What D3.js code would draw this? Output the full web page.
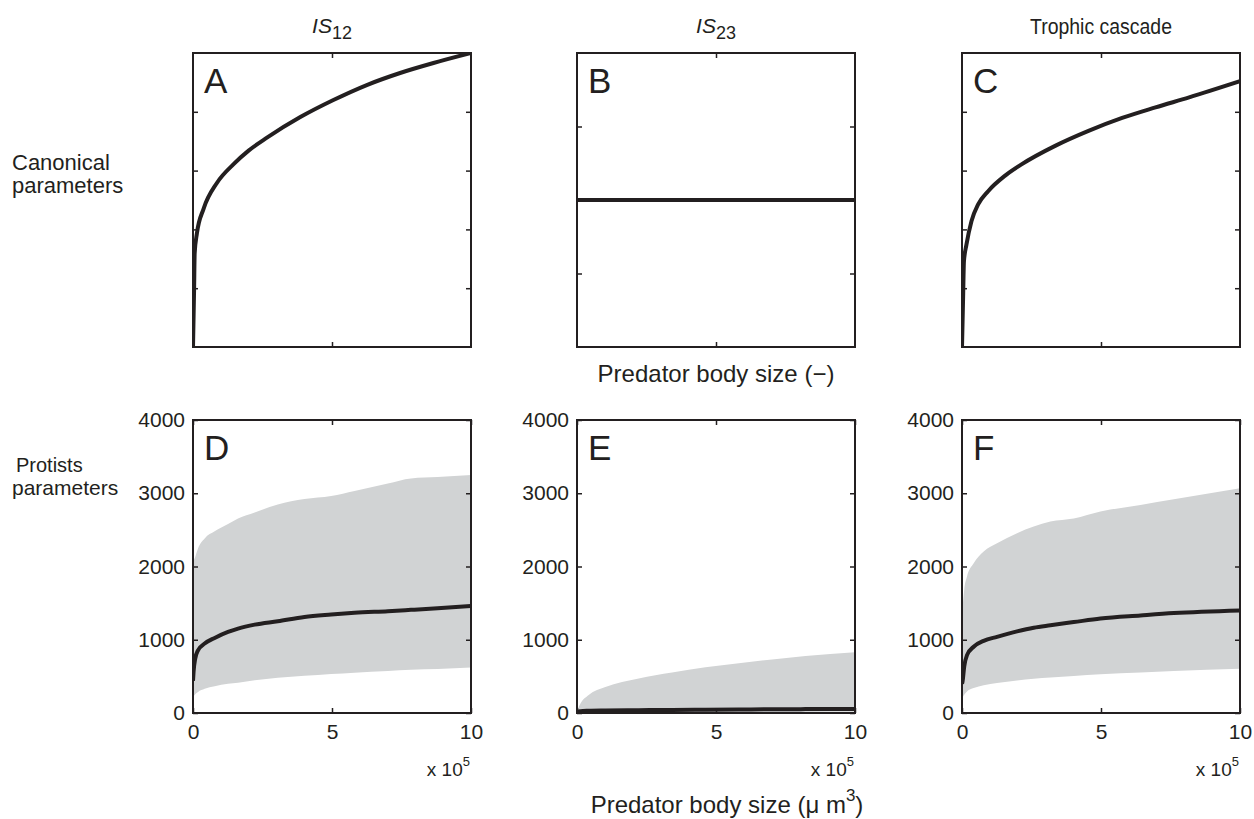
<!DOCTYPE html>
<html><head><meta charset="utf-8">
<script src="https://cdn.jsdelivr.net/npm/d3@7"></script>
<style>
body{margin:0;background:#fff}
text{font-family:"Liberation Sans",Arial,Helvetica,sans-serif;fill:#231f20}
</style>
</head><body>
<svg id="c" width="1254" height="819"></svg>
<script>
// ---------- DATA ----------
const colTitles = ["IS12", "IS23", "Trophic cascade"];
const rowLabels = [["Canonical", "parameters"], ["Protists", "parameters"]];
const panelLetters = ["A", "B", "C", "D", "E", "F"];

// Top row (canonical, dimensionless axes 0..1)
const topX_A = [0, 0.004, 0.006, 0.014, 0.038, 0.086, 0.146, 0.2, 0.266, 0.386, 0.505, 0.625, 0.745, 0.865, 1];
const topY_A = [0, 0.2, 0.318, 0.386, 0.470, 0.558, 0.622, 0.668, 0.712, 0.782, 0.840, 0.891, 0.932, 0.966, 1];
const topX_B = [0, 1];
const topY_B = [0.5, 0.5];
const topX_C = [0, 0.004, 0.007, 0.016, 0.034, 0.058, 0.094, 0.154, 0.214, 0.335, 0.455, 0.576, 0.696, 0.817, 1];
const topY_C = [0, 0.17, 0.291, 0.348, 0.428, 0.485, 0.530, 0.582, 0.621, 0.684, 0.735, 0.779, 0.815, 0.849, 0.904];
const topTicksX = [0.5];
const topTicksY_AC = [0.2, 0.4, 0.6, 0.8];
const topTicksY_B = [0.25, 0.75];

// Bottom row (protists; x in units of 1e5 um^3)
const botX_D = [0, 0.02, 0.08, 0.18, 0.42, 0.78, 1.26, 1.62, 2.22, 3.05, 4.01, 4.97, 5.81, 7.01, 7.84, 8.8, 10];
const upper_D = [2000, 2060, 2130, 2246, 2383, 2480, 2580, 2656, 2738, 2847, 2920, 2961, 3030, 3134, 3203, 3221, 3250];
const mean_D  = [440, 560, 743, 856, 948, 1025, 1107, 1153, 1207, 1253, 1312, 1344, 1367, 1390, 1408, 1430, 1462];
const lower_D = [170, 219, 255, 287, 330, 365, 398, 412, 446, 480, 508, 533, 551, 574, 590, 600, 620];

const botX_E = [0, 0.02, 0.12, 0.42, 1.02, 2.22, 3.42, 4.62, 5.82, 7.02, 8.22, 10];
const upper_E = [30, 47, 127, 245, 354, 472, 552, 623, 679, 731, 778, 830];
const mean_E  = [15, 20, 25, 30, 34, 38, 42, 45, 48, 51, 53, 55];
const lower_E = [0, 2, 4, 6, 8, 10, 11, 12, 13, 14, 15, 16];

const botX_F = [0, 0.02, 0.08, 0.18, 0.42, 0.78, 1.26, 1.98, 2.58, 3.18, 4.02, 4.98, 6.42, 7.62, 10];
const upper_F = [1270, 1409, 1682, 1864, 2045, 2205, 2318, 2455, 2545, 2614, 2655, 2750, 2841, 2918, 3068];
const mean_F  = [400, 432, 636, 790, 905, 985, 1040, 1115, 1165, 1198, 1241, 1290, 1332, 1364, 1400];
const lower_F = [136, 205, 250, 295, 340, 380, 410, 445, 468, 485, 506, 530, 553, 575, 605];

const botTicksX = [0, 5, 10];
const botTicksY = [0, 1000, 2000, 3000, 4000];
const xAxisTop = "Predator body size (\u2212)";
const xAxisBottom = "Predator body size (\u03bc m";

// ---------- LAYOUT ----------
const ink = "#231f20", bandColor = "#d1d3d4";
const colX = [193, 577, 962], panelW = 278;
const rowY = [53, 420], rowH = [294, 293];
const svg = d3.select("#c");

function makePanel(i, col, row, xDom, yDom) {
  const g = svg.append("g").attr("transform", `translate(${colX[col]},${rowY[row]})`);
  const x = d3.scaleLinear().domain(xDom).range([0, panelW]);
  const y = d3.scaleLinear().domain(yDom).range([rowH[row], 0]);
  g.append("clipPath").attr("id", "clip" + i).append("rect")
    .attr("width", panelW).attr("height", rowH[row]);
  const plot = g.append("g").attr("clip-path", `url(#clip${i})`);
  return {g, x, y, plot, h: rowH[row]};
}

function styleAxis(sel) {
  sel.select(".domain").remove();
  sel.selectAll(".tick line").attr("stroke", ink).attr("stroke-width", 1.5);
  sel.selectAll(".tick text").attr("font-size", 21).attr("fill", ink);
}

function frame(p, xt, yt, labels) {
  const t = 5;
  const bottom = d3.axisBottom(p.x).tickValues(xt).tickSize(-t).tickPadding(11)
    .tickFormat(labels ? d3.format("d") : () => "");
  const top = d3.axisTop(p.x).tickValues(xt).tickSize(-t).tickFormat(() => "");
  const left = d3.axisLeft(p.y).tickValues(yt).tickSize(-t).tickPadding(8)
    .tickFormat(labels ? d3.format("d") : () => "");
  const right = d3.axisRight(p.y).tickValues(yt).tickSize(-t).tickFormat(() => "");
  p.g.append("g").attr("transform", `translate(0,${p.h})`).call(bottom).call(styleAxis);
  p.g.append("g").call(top).call(styleAxis);
  p.g.append("g").call(left).call(styleAxis);
  p.g.append("g").attr("transform", `translate(${panelW},0)`).call(right).call(styleAxis);
  p.g.append("rect").attr("width", panelW).attr("height", p.h)
    .attr("fill", "none").attr("stroke", ink).attr("stroke-width", 2);
}

function drawLine(p, xs, ys, curve) {
  const line = d3.line().x((d, k) => p.x(xs[k])).y(d => p.y(d)).curve(curve || d3.curveMonotoneX);
  p.plot.append("path").datum(ys).attr("d", line)
    .attr("fill", "none").attr("stroke", ink).attr("stroke-width", 4)
    .attr("stroke-linejoin", "round");
}

function drawBand(p, xs, lo, hi) {
  const area = d3.area().x((d, k) => p.x(xs[k])).y0((d, k) => p.y(lo[k])).y1(d => p.y(d))
    .curve(d3.curveMonotoneX);
  p.plot.append("path").datum(hi).attr("d", area).attr("fill", bandColor);
}

function letter(p, s) {
  p.g.append("text").attr("x", 11).attr("y", 40).attr("font-size", 35).text(s);
}

// Top row
const pA = makePanel(0, 0, 0, [0, 1], [0, 1]);
drawLine(pA, topX_A, topY_A);
frame(pA, topTicksX, topTicksY_AC, false); letter(pA, panelLetters[0]);

const pB = makePanel(1, 1, 0, [0, 1], [0, 1]);
drawLine(pB, topX_B, topY_B, d3.curveLinear);
frame(pB, topTicksX, topTicksY_B, false); letter(pB, panelLetters[1]);

const pC = makePanel(2, 2, 0, [0, 1], [0, 1]);
drawLine(pC, topX_C, topY_C);
frame(pC, topTicksX, topTicksY_AC, false); letter(pC, panelLetters[2]);

// Bottom row
const bot = [
  [botX_D, lower_D, mean_D, upper_D],
  [botX_E, lower_E, mean_E, upper_E],
  [botX_F, lower_F, mean_F, upper_F]
];
bot.forEach((d, c) => {
  const p = makePanel(3 + c, c, 1, [0, 10], [0, 4000]);
  drawBand(p, d[0], d[1], d[3]);
  drawLine(p, d[0], d[2]);
  frame(p, botTicksX, botTicksY, true);
  letter(p, panelLetters[3 + c]);
  const t = p.g.append("text").attr("x", panelW - 1).attr("y", p.h + 63)
    .attr("text-anchor", "end").attr("font-size", 19);
  t.append("tspan").text("x 10");
  t.append("tspan").attr("dy", -10).attr("font-size", 13).text("5");
});

// Column titles
const cx = colX.map(v => v + panelW / 2);
[0, 1].forEach(i => {
  const t = svg.append("text").attr("x", cx[i]).attr("y", 33).attr("text-anchor", "middle").attr("font-size", 21);
  t.append("tspan").attr("font-style", "italic").text(colTitles[i].slice(0, 2));
  t.append("tspan").attr("dy", 6).attr("font-size", 18).text(colTitles[i].slice(2));
});
svg.append("text").attr("x", cx[2]).attr("y", 34).attr("text-anchor", "middle").attr("font-size", 22)
  .attr("textLength", 142).attr("lengthAdjust", "spacingAndGlyphs").text(colTitles[2]);

// Row labels
svg.append("text").attr("x", 12).attr("y", 170).attr("font-size", 22).text(rowLabels[0][0]);
svg.append("text").attr("x", 12).attr("y", 193).attr("font-size", 22).text(rowLabels[0][1]);
svg.append("text").attr("x", 16).attr("y", 472).attr("font-size", 20).text(rowLabels[1][0]);
svg.append("text").attr("x", 12).attr("y", 495).attr("font-size", 21).text(rowLabels[1][1]);

// Axis labels
svg.append("text").attr("x", cx[1]).attr("y", 382).attr("text-anchor", "middle").attr("font-size", 24).text(xAxisTop);
const xl = svg.append("text").attr("x", cx[1] + 11).attr("y", 813).attr("text-anchor", "middle").attr("font-size", 24);
xl.append("tspan").text(xAxisBottom);
xl.append("tspan").attr("dy", -12).attr("font-size", 17).text("3");
xl.append("tspan").attr("dy", 12).text(")");
</script>
</body></html>
